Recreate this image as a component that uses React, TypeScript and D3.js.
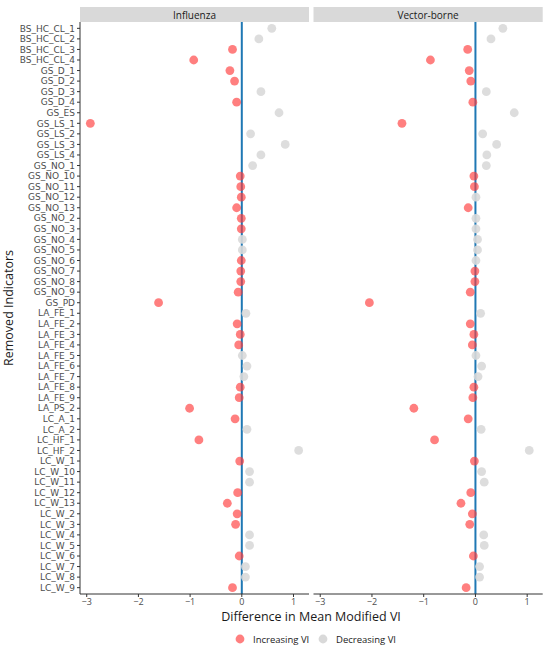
import React from "react";
import * as d3 from "d3";

const indicators = [
  "BS_HC_CL_1","BS_HC_CL_2","BS_HC_CL_3","BS_HC_CL_4",
  "GS_D_1","GS_D_2","GS_D_3","GS_D_4","GS_ES",
  "GS_LS_1","GS_LS_2","GS_LS_3","GS_LS_4",
  "GS_NO_1","GS_NO_10","GS_NO_11","GS_NO_12","GS_NO_13","GS_NO_2","GS_NO_3","GS_NO_4","GS_NO_5","GS_NO_6","GS_NO_7","GS_NO_8","GS_NO_9",
  "GS_PD",
  "LA_FE_1","LA_FE_2","LA_FE_3","LA_FE_4","LA_FE_5","LA_FE_6","LA_FE_7","LA_FE_8","LA_FE_9",
  "LA_PS_2","LC_A_1","LC_A_2","LC_HF_1","LC_HF_2",
  "LC_W_1","LC_W_10","LC_W_11","LC_W_12","LC_W_13","LC_W_2","LC_W_3","LC_W_4","LC_W_5","LC_W_6","LC_W_7","LC_W_8","LC_W_9",
];

const influenza = [
  0.58, 0.33, -0.18, -0.93,
  -0.23, -0.14, 0.37, -0.10, 0.72,
  -2.93, 0.17, 0.84, 0.37,
  0.21, -0.03, -0.02, -0.01, -0.10, -0.01, -0.01, 0.01, 0.01, -0.01, -0.02, -0.02, -0.07,
  -1.61,
  0.08, -0.09, -0.03, -0.06, 0.01, 0.10, 0.04, -0.03, -0.05,
  -1.01, -0.13, 0.10, -0.83, 1.10,
  -0.04, 0.15, 0.15, -0.08, -0.28, -0.09, -0.12, 0.15, 0.15, -0.05, 0.07, 0.07, -0.18,
];

const vectorBorne = [
  0.53, 0.30, -0.15, -0.87,
  -0.12, -0.09, 0.21, -0.05, 0.75,
  -1.42, 0.14, 0.41, 0.22,
  0.21, -0.03, -0.02, 0.01, -0.14, 0.01, 0.01, 0.04, 0.04, 0.01, -0.01, -0.01, -0.10,
  -2.05,
  0.10, -0.10, -0.03, -0.06, 0.01, 0.12, 0.05, -0.03, -0.05,
  -1.19, -0.14, 0.11, -0.79, 1.04,
  -0.02, 0.12, 0.17, -0.09, -0.28, -0.06, -0.11, 0.16, 0.17, -0.04, 0.08, 0.08, -0.18,
];

const panels = ["Influenza", "Vector-borne"];
const xTicks = [-3, -2, -1, 0, 1];
const legendLabels = ["Increasing VI", "Decreasing VI"];

const RED = "#ff3b3b";
const RED_OPACITY = 0.65;
const GREY = "#d9d9d9";
const FONT = "'Open Sans', 'Noto Sans', sans-serif";
const TICK_FONT = "'DejaVu Sans', sans-serif";

export default function App() {
  const W = 550, H = 651;
  const top = 22, bottom = 594;
  const panelX = [
    [80, 309],
    [313.5, 542.7],
  ];
  const y = d3.scalePoint<string>().domain(indicators).range([top, bottom]).padding(0.6);
  const seriesList = [influenza, vectorBorne];

  return (
    <svg width={W} height={H} style={{ position: "absolute", left: 0, top: 0 }} fontFamily={FONT}>
      <rect width={W} height={H} fill="#fff" />
      {panels.map((name, pi) => {
        const [x0, x1] = panelX[pi];
        const x = d3.scaleLinear().domain([-3.13, 1.3]).range([x0, x1]);
        const vals = seriesList[pi];
        return (
          <g key={name}>
            <rect x={x0} y={7} width={x1 - x0} height={15} fill="#d9d9d9" />
            <text x={(x0 + x1) / 2} y={18.5} textAnchor="middle" fontSize={10} fill="#1a1a1a">{name}</text>
            <line x1={x(0)} x2={x(0)} y1={top} y2={bottom} stroke="#1f78b4" strokeWidth={2} />
            {indicators.map((ind, i) => {
              const v = vals[i];
              const inc = v < 0;
              return (
                <circle key={ind} cx={x(v)} cy={y(ind)!} r={4.4}
                  fill={inc ? RED : GREY} fillOpacity={inc ? RED_OPACITY : 0.9} />
              );
            })}
            <line x1={x0} x2={x1} y1={bottom} y2={bottom} stroke="#333" strokeWidth={1} />
            {xTicks.map((t) => (
              <g key={t}>
                <line x1={x(t)} x2={x(t)} y1={bottom} y2={bottom + 3} stroke="#333" />
                <text x={x(t)} y={bottom + 10.5} textAnchor="middle" fontSize={9} fill="#4d4d4d">
                  {t < 0 ? "\u2212" + Math.abs(t) : String(t)}
                </text>
              </g>
            ))}
          </g>
        );
      })}
      <line x1={80} x2={80} y1={top} y2={bottom} stroke="#333" strokeWidth={1} />
      {indicators.map((ind) => (
        <g key={ind}>
          <line x1={77} x2={80} y1={y(ind)!} y2={y(ind)!} stroke="#333" />
          <text x={75} y={y(ind)! + 3.2} textAnchor="end" fontSize={9} fontFamily={TICK_FONT} fill="#4d4d4d">{ind}</text>
        </g>
      ))}
      <text transform={`translate(13,${(top + bottom) / 2}) rotate(-90)`} textAnchor="middle" fontSize={12.5} fill="#1a1a1a">
        Removed Indicators
      </text>
      <text x={311} y={621} textAnchor="middle" fontSize={12.5} fill="#1a1a1a">Difference in Mean Modified VI</text>
      <circle cx={240} cy={639} r={4.4} fill={RED} fillOpacity={RED_OPACITY} />
      <text x={253} y={642.5} fontSize={9.5} fill="#1a1a1a">{legendLabels[0]}</text>
      <circle cx={323} cy={639} r={4.4} fill={GREY} />
      <text x={336} y={642.5} fontSize={9.5} fill="#1a1a1a">{legendLabels[1]}</text>
    </svg>
  );
}
